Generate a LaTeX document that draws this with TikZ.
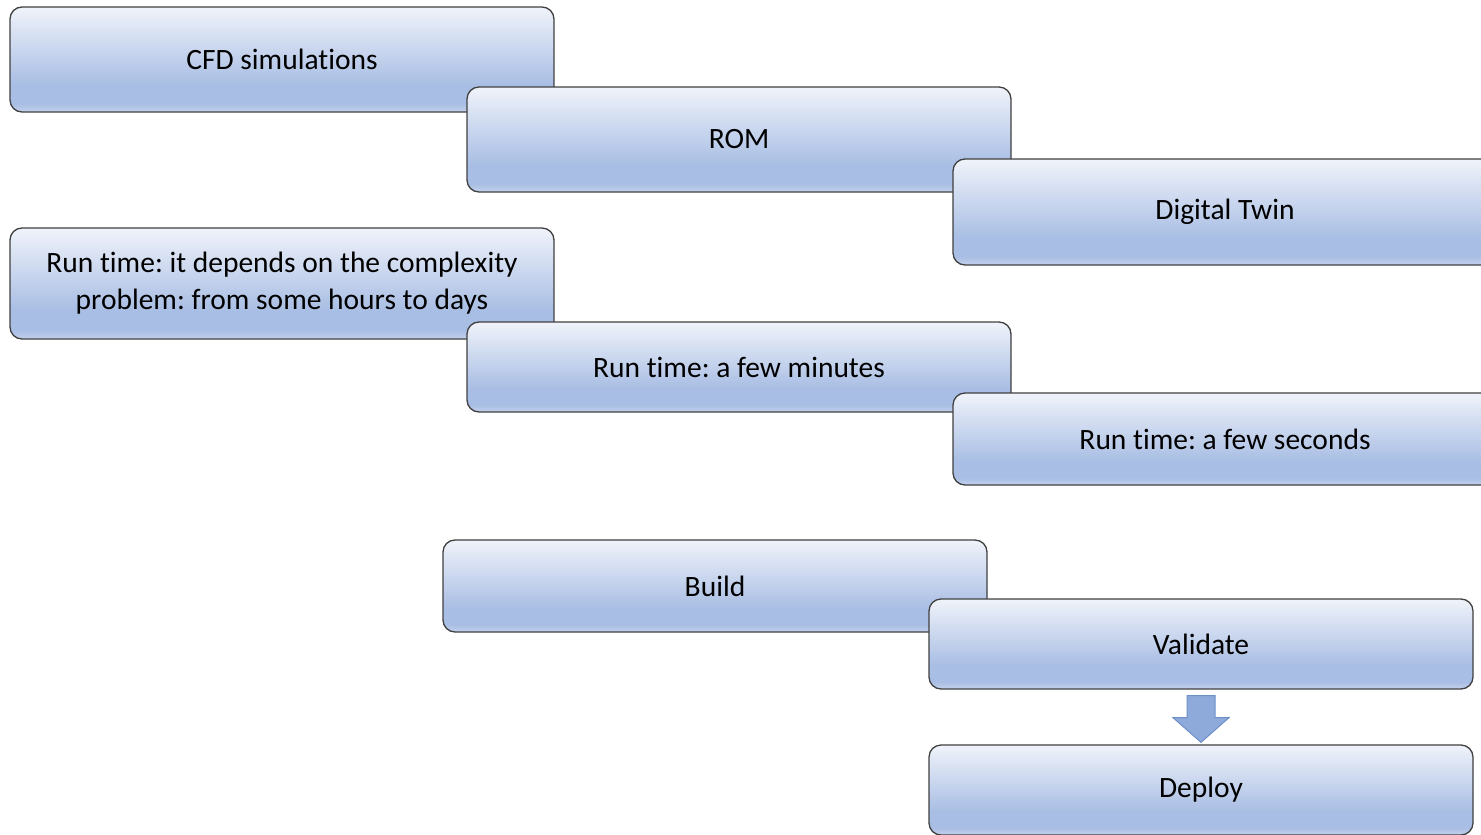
\documentclass[tikz,border=0pt]{standalone}
\usepackage{fontspec}
\setmainfont{Carlito}[Ligatures=NoCommon]
\usetikzlibrary{calc}
\definecolor{boxtop}{HTML}{F0F3FA}
\definecolor{boxmid}{HTML}{A9BEE4}
\definecolor{boxbot}{HTML}{C3D1EC}
\definecolor{boxline}{HTML}{404040}
\definecolor{arrfill}{HTML}{8EAADB}
\definecolor{arrline}{HTML}{6F8FC8}
\pgfdeclareverticalshading{boxshade}{100bp}{color(0bp)=(boxbot); color(25bp)=(boxbot); color(29bp)=(boxmid); color(38bp)=(boxmid); color(75bp)=(boxtop); color(100bp)=(boxtop)}
\tikzset{
  stepbox/.style={draw=boxline, line width=1.3pt, rounded corners=12pt, shading=boxshade,
    minimum width=544pt, inner sep=0pt, align=center, font=\fontsize{29.5}{37}\selectfont},
}
\frenchspacing
\begin{document}
\begin{tikzpicture}[x=1pt,y=-1pt]
\useasboundingbox (0,0) rectangle (1481,835);
\clip (0,0) rectangle (1481,835);
\node[stepbox, minimum height=105pt] (cfd) at (282,59.5) {CFD simulations};
\node[stepbox, minimum height=105pt] (rom) at (739,139.5) {ROM};
\node[stepbox, minimum height=106pt] (dt) at (1225,212) {Digital Twin};
\node[stepbox, minimum height=111pt] (rt1) at (282,283.5) {Run time: it depends on the complexity\\problem: from some hours to days};
\node[stepbox, minimum height=90pt] (rt2) at (739,367) {Run time: a few minutes};
\node[stepbox, minimum height=92pt] (rt3) at (1225,439) {Run time: a few seconds};
\node[stepbox, minimum height=92pt] (build) at (715,586) {Build};
\node[stepbox, minimum height=90pt] (val) at (1201,644) {Validate};
\node[stepbox, minimum height=90pt] (dep) at (1201,790) {Deploy};
\draw[fill=arrfill, draw=arrline, line width=1pt, line join=miter]
  ($(val.south)+(-14,6)$) -- ($(val.south)+(14,6)$) -- ($(val.south)+(14,28)$)
  -- ($(val.south)+(28,28)$) -- ($(dep.north)+(0,-2)$) -- ($(val.south)+(-28,28)$)
  -- ($(val.south)+(-14,28)$) -- cycle;
\end{tikzpicture}
\end{document}
